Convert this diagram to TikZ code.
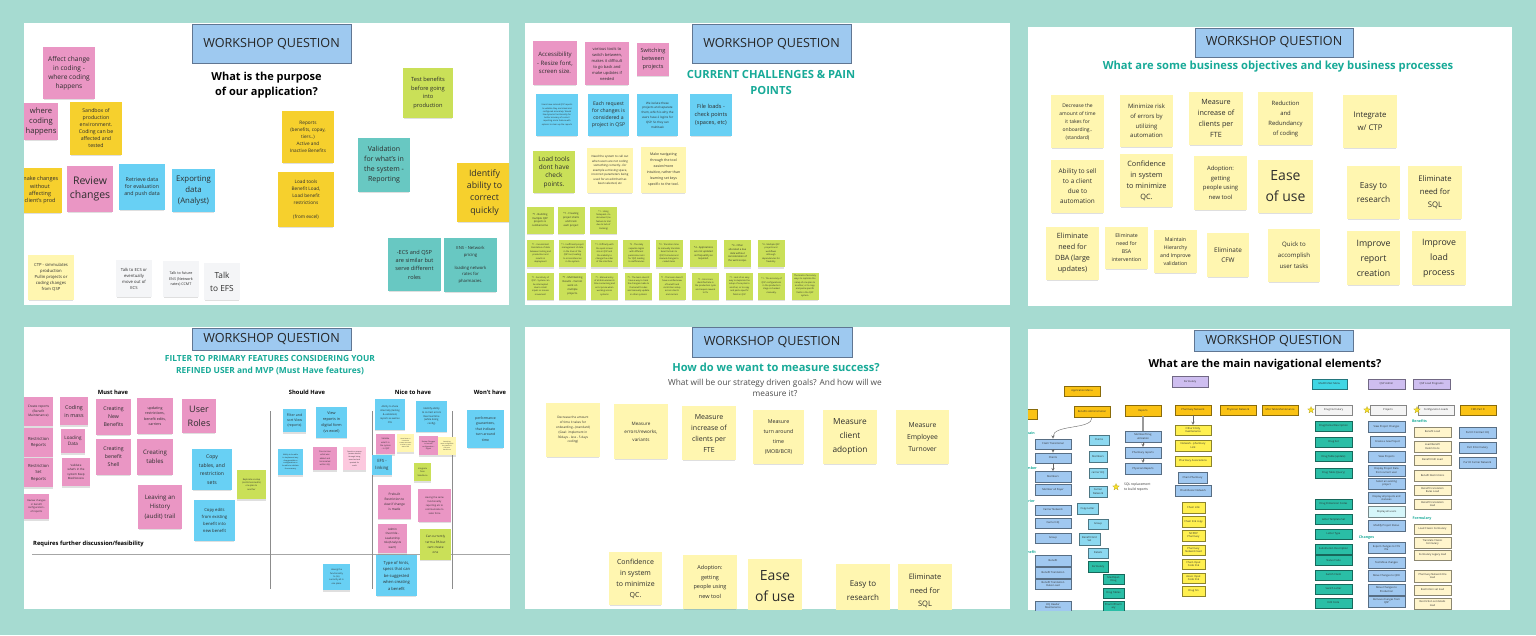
\documentclass[tikz,border=0pt]{standalone}
\usepackage{fontspec}
\setmainfont{Open Sans}
\usepackage{tikz}
\usetikzlibrary{shadows}
\usetikzlibrary{shapes.geometric}
\usetikzlibrary{arrows}

\definecolor{bgteal}{RGB}{166,219,209}
\definecolor{hdrblue}{RGB}{158,201,240}
\definecolor{hdrline}{RGB}{96,118,146}
\definecolor{teal2}{RGB}{24,170,152}
\definecolor{txt}{RGB}{45,45,45}
\definecolor{notepk}{RGB}{234,150,196}
\definecolor{lightpk}{RGB}{252,200,222}
\definecolor{noteyl}{RGB}{246,208,45}
\definecolor{notebl}{RGB}{104,208,244}
\definecolor{notetl}{RGB}{104,200,194}
\definecolor{notelg}{RGB}{202,224,88}
\definecolor{notepy}{RGB}{255,246,176}
\definecolor{notegr}{RGB}{244,245,247}
\definecolor{navor}{RGB}{250,194,20}
\definecolor{navli}{RGB}{206,190,240}
\definecolor{navbl}{RGB}{160,200,240}
\definecolor{navcy}{RGB}{140,216,240}
\definecolor{navtl}{RGB}{42,190,166}
\definecolor{navyl}{RGB}{255,240,80}
\definecolor{navpy}{RGB}{255,245,204}
\definecolor{navwt}{RGB}{244,244,244}
\definecolor{navtq}{RGB}{64,214,228}
\definecolor{navpale}{RGB}{214,246,250}
\definecolor{staryl}{RGB}{250,225,40}

\tikzset{
    wh/.style 2 args={minimum width=#1, minimum height=#2},
    fs/.style 2 args={font=\fontsize{#1}{#2}\selectfont},
    fsb/.style 2 args={font=\fontsize{#1}{#2}\selectfont\bfseries},
    note/.style={align=center, text=txt, inner sep=0pt,
        drop shadow={shadow xshift=0pt, shadow yshift=-2pt, shadow scale=0.97, opacity=0.25}},
    pk/.style={note, fill=notepk},
    lpk/.style={note, fill=lightpk},
    yl/.style={note, fill=noteyl},
    bl/.style={note, fill=notebl},
    tl/.style={note, fill=notetl},
    lg/.style={note, fill=notelg},
    py/.style={note, fill=notepy},
    gr/.style={note, fill=notegr},
    sm/.style={lg, wh={27}{27}, fs={2.2}{3.4}},
    hdr/.style={draw=hdrline, line width=0.6pt, fill=hdrblue, text=black!85,
        font=\fontsize{12.6}{15}\selectfont, inner sep=0pt},
    ttl/.style={align=center, inner sep=0pt},
    nav/.style={fill=#1, draw=#1!55!black, line width=0.3pt, align=center, text=txt,
        inner sep=0pt, minimum width=37, minimum height=10, font=\fontsize{2.6}{3.2}\selectfont},
    navhd/.style={text=teal2, font=\fontsize{3.6}{4}\selectfont\bfseries, inner sep=0pt},
    sstar/.style={star, star points=5, star point ratio=2.3, fill=staryl,
        draw=staryl!70!black, line width=0.2pt, minimum size=7, inner sep=0pt},
    flow/.style={-stealth, line width=0.4pt, black!60}
}

\begin{document}
\begin{tikzpicture}[x=1pt,y=-1pt]
    % Background
    \fill[bgteal] (0,0) rectangle (1536,635);

    % Panel 1: purpose
    \fill[white] (24,23) rectangle (509,305);
    \begin{scope}
    \clip (24,23) rectangle (509,305);
    \node[hdr, wh={159}{39}] (h1) at (271.5,43.5) {WORKSHOP QUESTION};
    \node[ttl, fsb={11}{15.5}] (t1) at (266.5,85) {What is the purpose\\of our application?};
    \node[pk, wh={52}{52}, fs={6.6}{9}] (a1) at (69,73) {Affect change\\in coding -\\where coding\\happens};
    \node[pk, wh={34}{37}, fs={7.6}{10}] (a2) at (41,121.5) {where\\coding\\happens};
    \node[yl, wh={52}{53}, fs={5.2}{7}] (a3) at (96,128.5) {Sandbox of\\production\\environment.\\Coding can be\\affected and\\tested};
    \node[yl, wh={44}{45}, fs={5.5}{7.3}] (a4) at (40,190.5) {make changes\\without\\affecting\\client's prod};
    \node[pk, wh={46}{46}, fs={10.5}{13.5}] (a5) at (90,189) {Review\\changes};
    \node[bl, wh={46}{46}, fs={5.3}{7.3}] (a6) at (142,187) {Retrieve data\\for evaluation\\and push data};
    \node[bl, wh={43}{43}, fs={7.8}{10.7}] (a7) at (193.5,190.5) {Exporting\\data\\(Analyst)};
    \node[py, wh={46}{45}, fs={4.2}{6}] (a8) at (51,277.5) {CTP - simmulates\\production\\Pullin projects or\\coding changes\\from QSP};
    \node[gr, wh={36}{37}, fs={4.2}{6}] (a9) at (134,278.5) {Talk to ECS or\\eventually\\move out of\\ECS};
    \node[gr, wh={36}{36}, fs={3.7}{5.5}] (a10) at (181,279) {Talk to future\\ENS (Network\\rates) CCMT};
    \node[gr, wh={36}{37}, fs={8.3}{13}] (a11) at (222,281.5) {Talk\\to EFS};
    \node[lg, wh={50}{50}, fs={5.7}{8.5}] (a12) at (428,93) {Test benefits\\before going\\into\\production};
    \node[yl, wh={52}{52}, fs={4.7}{7}] (a13) at (308,137) {Reports\\(benefits, copay,\\tiers..)\\Active and\\Inactive Benefits};
    \node[yl, wh={56}{55}, fs={4.7}{7}] (a14) at (306,199.5) {Load tools\\Benefit Load,\\Load benefit\\restrictions\\[7pt](from excel)};
    \node[tl, wh={52}{54}, fs={7}{10}] (a15) at (384,165) {Validation\\for what's in\\the system -\\Reporting};
    \node[yl, wh={55}{59}, fs={8.8}{12.3}] (a16) at (484.5,192.5) {Identify\\ability to\\correct\\quickly};
    \node[tl, wh={53}{53}, fs={5.6}{8.3}] (a17) at (414.5,264.5) {-ECS and QSP\\are similar but\\serve different\\roles};
    \node[tl, wh={53}{54}, fs={4.2}{6.5}] (a18) at (470.5,265) {ENS - Network\\pricing\\[6.5pt]loading network\\rates for\\pharmacies.};
    \end{scope}

    % Panel 2: challenges
    \fill[white] (525,23) rectangle (1010,305);
    \begin{scope}
    \clip (525,23) rectangle (1010,305);
    \node[hdr, wh={159}{39}] (h2) at (771.5,43.5) {WORKSHOP QUESTION};
    \node[ttl, text=teal2, fsb={11.2}{16.5}] (t2) at (771,82.5) {CURRENT CHALLENGES \& PAIN\\POINTS};
    \node[pk, wh={44}{44}, fs={6}{8.7}] (b1) at (555,63) {Accessibility\\- Resize font,\\screen size.};
    \node[pk, wh={44}{43}, fs={4}{6}] (b2) at (607,63.5) {various tools to\\switch between,\\makes it difficult\\to go back and\\make updates if\\needed};
    \node[pk, wh={32}{33}, fs={5.6}{8}] (b3) at (653,59.5) {Switching\\between\\projects};
    \node[bl, wh={42}{42}, fs={2.1}{3.2}] (b4) at (557,115) {Users have noticed QSP reports\\to validate they are linked and\\configured accurately. Would\\like dynamic functionality for\\better accuracy of current\\reporting and a feature with\\options to clean up the reports};
    \node[bl, wh={41}{42}, fs={5.1}{7}] (b5) at (608.5,115) {Each request\\for changes is\\considered a\\project in QSP};
    \node[bl, wh={41}{42}, fs={3}{4.8}] (b6) at (657.5,115) {We isolate these\\projects and separate\\them, which is why the\\users have 2 logins for\\QSP. So they can\\multitask};
    \node[bl, wh={42}{42}, fs={5.6}{8}] (b7) at (711,115) {File loads -\\check points\\(spaces, etc)};
    \node[lg, wh={42}{42}, fs={6.5}{8.3}] (b8) at (554,172) {Load tools\\dont have\\check\\points.};
    \node[py, wh={46}{45}, fs={2.9}{4.5}] (b9) at (610,170.5) {Need the system to call out\\when users are not coding\\something correctly...for\\example a missing space,\\incorrect parameters being\\used for an edit that has\\been selected, etc};
    \node[py, wh={45}{46}, fs={3.5}{6}] (b10) at (663.5,170) {Make navigating\\through the tool\\easier/more\\intuitive, rather than\\learning set keys\\specific to the tool.};
    % small pain points
    \node[sm, fs={2.6}{3.9}] (b11) at (540,220) {*1 - Building\\multiple QSP\\projects is\\cumbersome};
    \node[sm, fs={2.6}{3.9}] (b12) at (571,220) {*1 - Creating\\project shells\\and track\\each project};
    \node[sm] (b13) at (603.5,220) {*1 - Using\\Notepad++ to\\document (no\\feature to trail\\due to lack of\\tracking)};
    \node[sm] (b14) at (540.5,253.5) {*1 - Inconsistent\\translation of data\\between testing and\\production and\\results in\\deployment};
    \node[sm] (b15) at (572.5,253.5) {*1 - Inefficient project\\management of data\\in the lines of the\\QSP tool, leading\\to inconsistencies\\in the system};
    \node[sm] (b16) at (604.5,253.5) {*1 - Difficulty with\\the quick screen\\size in QSP and\\the inability to\\change the order\\of the interface.};
    \node[sm] (b17) at (636.5,253.5) {*2 - The daily\\separate logins\\with different\\permission sets\\for QSP, leading\\to inefficiencies};
    \node[sm] (b18) at (669,253.5) {*3 - Transition time\\to manually translate\\Excel formats to\\QSP, formulas and\\manual changes to\\coded items};
    \node[sm, fs={2.5}{3.8}] (b19) at (703.5,253.5) {*4 - Applications\\are not updated\\as frequently as\\required.};
    \node[sm, fs={2.5}{3.8}] (b20) at (737.5,253.5) {*4 - Often\\allocated a due\\date without\\consideration of\\the work scope.};
    \node[sm] (b21) at (771,253.5) {*4 - Multiple QSP\\projects and\\workflows\\although\\dependencies for\\flexibility};
    \node[sm] (b22) at (540.5,286) {*1 - Sensitivity of\\QSP - System can\\be interrupted\\due to small\\inputs or mouse\\movement};
    \node[sm, fs={2.6}{4}] (b23) at (572.5,286) {*1 - Multitasking\\Results - Cannot\\work on\\multiple\\projects.};
    \node[sm] (b24) at (604.5,286) {*1 - Manual entry\\of all data elements\\time consuming and\\error prone when\\working across\\systems};
    \node[sm] (b25) at (638.5,286) {*1 - The team doesn't\\have a way to track\\the changes made to\\the benefit codes\\and manually update\\in other systems};
    \node[sm] (b26) at (672,286) {*1 - The team doesn't\\have a unified view\\of benefit and\\restriction setup\\across clients\\and carriers};
    \node[sm] (b27) at (705.5,286) {*1 - Errors are\\identified late in\\the production cycle\\and require rework\\to fix};
    \node[sm] (b28) at (739.5,286) {*1 - Lack of an easy\\way to duplicate the\\setup of one plan to\\another, or to copy\\and paste specific\\fields in QSP};
    \node[sm] (b29) at (771.5,286) {*1 - The accuracy of\\QSP configurations\\in the production\\stage is checked\\manually.};
    \node[sm] (b30) at (805,286) {The loads of accuracy\\ways to replicate the\\setup of one plan to\\another, or to copy\\and paste specific\\fields in the QSP\\system.};
    \end{scope}

    % Panel 3: business objectives
    \fill[white] (1028,27) rectangle (1512,306);
    \begin{scope}
    \clip (1028,27) rectangle (1512,306);
    \node[hdr, wh={158}{29}] (h3) at (1274,42.5) {WORKSHOP QUESTION};
    \node[ttl, text=teal2, fsb={11.2}{13}] (t3) at (1278,67) {What are some business objectives and key business processes};
    \node[py, wh={53}{53}, fs={5}{8}] (c1) at (1077.5,121.5) {Decrease the\\amount of time\\it takes for\\onboarding..\\(standard)};
    \node[py, wh={53}{52}, fs={6}{9.7}] (c2) at (1146.5,121) {Minimize risk\\of errors by\\utilizing\\automation};
    \node[py, wh={54}{53}, fs={7.2}{11}] (c3) at (1216,118.5) {Measure\\increase of\\clients per\\FTE};
    \node[py, wh={55}{53}, fs={5.9}{10}] (c4) at (1285.5,118.5) {Reduction\\and\\Redundancy\\of coding};
    \node[py, wh={54}{53}, fs={7.8}{13}] (c5) at (1370,121.5) {Integrate\\w/ CTP};
    \node[py, wh={53}{53}, fs={6.4}{10}] (c6) at (1077.5,186.5) {Ability to sell\\to a client\\due to\\automation};
    \node[py, wh={53}{53}, fs={7.3}{11}] (c7) at (1146.5,180.5) {Confidence\\in system\\to minimize\\QC.};
    \node[py, wh={53}{54}, fs={5.9}{9.5}] (c8) at (1220.5,183) {Adoption:\\getting\\people using\\new tool};
    \node[py, wh={55}{53}, fs={14}{21}] (c9) at (1285.5,186.5) {Ease\\of use};
    \node[py, wh={53}{53}, fs={8.3}{14}] (c10) at (1373.5,192.5) {Easy to\\research};
    \node[py, wh={54}{53}, fs={7.7}{13}] (c11) at (1435,192.5) {Eliminate\\need for\\SQL};
    \node[py, wh={53}{53}, fs={7.2}{11}] (c12) at (1072.5,253.5) {Eliminate\\need for\\DBA (large\\updates)};
    \node[py, wh={43}{42}, fs={5.2}{8}] (c13) at (1126.5,248) {Eliminate\\need for\\BSA\\intervention};
    \node[py, wh={43}{43}, fs={5.2}{8}] (c14) at (1175.5,251.5) {Maintain\\Hierarchy\\and Improve\\validation};
    \node[py, wh={42}{44}, fs={6.4}{10}] (c15) at (1228,255) {Eliminate\\CFW};
    \node[py, wh={52}{53}, fs={6.1}{11}] (c16) at (1294,255.5) {Quick to\\accomplish\\user tasks};
    \node[py, wh={53}{54}, fs={8.8}{15}] (c17) at (1373.5,258) {Improve\\report\\creation};
    \node[py, wh={54}{54}, fs={8.8}{15}] (c18) at (1439,258) {Improve\\load\\process};
    \end{scope}

    % Panel 4: MVP features
    \fill[white] (24,327) rectangle (510,609);
    \begin{scope}
    \clip (24,327) rectangle (510,609);
    \node[hdr, wh={159}{22}] (h4) at (271.5,339) {WORKSHOP QUESTION};
    \node[ttl, text=teal2, fsb={8.4}{12}] (t4) at (270,365) {FILTER TO PRIMARY FEATURES CONSIDERING YOUR\\REFINED USER and MVP (Must Have features)};
    % Columns
    \node[ttl, fsb={5.8}{7}] (k1) at (113,392) {Must have};
    \node[ttl, fsb={5.8}{7}] (k2) at (307,392) {Should Have};
    \node[ttl, fsb={5.8}{7}] (k3) at (413,392) {Nice to have};
    \node[ttl, fsb={5.8}{7}] (k4) at (490,392) {Won't have};
    \node[ttl, fsb={5.8}{7}, anchor=west] (k5) at (33,544) {Requires further discussion/feasibility};
    \draw[black!35, line width=0.6pt] (32,554) -- (510,554);
    \draw[black!45, line width=0.6pt] (270,411) -- (270,589);
    \draw[black!45, line width=0.6pt] (372,411) -- (372,589);
    \draw[black!45, line width=0.6pt] (452,411) -- (452,589);
    % Must have
    \node[pk, wh={29}{29}, fs={3.2}{4.5}] (d1) at (38.5,411.5) {Create reports\\(Benefit\\Maintenance)};
    \node[pk, wh={29}{29}, fs={4.2}{6.5}] (d2) at (38.5,442.5) {Restriction\\Reports};
    \node[pk, wh={29}{29}, fs={4.2}{6.5}] (d3) at (38.5,472.5) {Restriction\\Set\\Reports};
    \node[pk, wh={25}{25}, fs={2.5}{3.6}] (d4) at (36.5,506.5) {Review changes\\in benefit\\configuration -\\of reports};
    \node[pk, wh={28}{28}, fs={5.4}{8}] (d5) at (74,411) {Coding\\in mass};
    \node[pk, wh={24}{24}, fs={4.6}{6.5}] (d6) at (73,441) {Loading\\Data};
    \node[pk, wh={28}{28}, fs={2.9}{4.3}] (d7) at (76,472) {Validate\\what's in the\\system Keep\\Med/Access};
    \node[pk, wh={35}{36}, fs={5.2}{8}] (d8) at (113.5,417) {Creating\\New\\Benefits};
    \node[pk, wh={35}{36}, fs={5.2}{8}] (d9) at (113.5,457) {Creating\\benefit\\Shell};
    \node[pk, wh={36}{36}, fs={3.6}{5.3}] (d10) at (155,416) {updating\\restrictions,\\benefit edits,\\carriers};
    \node[pk, wh={36}{36}, fs={6.1}{9.5}] (d11) at (155,457) {Creating\\tables};
    \node[pk, wh={34}{34}, fs={9}{14}] (d12) at (199,416) {User\\Roles};
    \node[pk, wh={44}{44}, fs={6.1}{9.7}] (d13) at (160,507) {Leaving an\\History\\(audit) trail};
    \node[bl, wh={40}{41}, fs={5.1}{8.5}] (d14) at (212,469.5) {Copy\\tables, and\\restriction\\sets};
    \node[bl, wh={41}{41}, fs={4.2}{7.2}] (d15) at (214.5,520.5) {Copy edits\\from existing\\benefit into\\new benefit};
    \node[lg, wh={29}{29}, fs={2.2}{3.3}] (d16) at (251.5,484.5) {Replicate a setup\\(restrictions/edits)\\one plan to\\another};
    % Should have
    \node[bl, wh={23}{23}, fs={3.5}{5.3}] (d17) at (294.5,420.5) {Filter and\\sort View\\(reports)};
    \node[bl, wh={31}{31}, fs={3.8}{5.8}] (d18) at (331.5,422.5) {View\\reports in\\digital form\\(vs excel)};
    \node[bl, wh={25}{26}, fs={1.9}{2.8}] (d19) at (290.5,462) {Ability to be able\\to implement any\\change within a\\configuration or\\be able to validate\\the accuracy};
    \node[pk, wh={24}{23}, fs={2.1}{3.2}] (d20) at (325,458.5) {You can see\\what was\\added and\\terminated\\within it(s)};
    \node[lpk, wh={23}{23}, fs={1.8}{2.8}] (d21) at (354.5,458.5) {Search on source\\(avatar details)\\through being\\searched and\\queried for\\audit};
    % Nice to have
    \node[bl, wh={30}{31}, fs={2.4}{3.8}] (d22) at (390,414.5) {Ability to share\\internally (testing\\\& validation)\\reports as well as\\CSV};
    \node[bl, wh={31}{31}, fs={2.5}{3.8}] (d23) at (431.5,416.5) {Identify ability\\to correct errors\\Real real time\\(while doing\\config)};
    \node[pk, wh={19}{20}, fs={2.1}{3.2}] (d24) at (385.5,444) {Validate\\what's in\\the system\\- in QSP};
    \node[py, wh={17}{18}, fs={1.5}{2.2}] (d25) at (405.5,443) {Have factor to\\customize\\create resources\\to refer in case\\view of life};
    \node[pk, wh={19}{19}, fs={1.8}{2.6}] (d26) at (428.5,445.5) {Review Changes\\in benefit\\configuration -\\Digital};
    \node[py, wh={18}{18}, fs={1.5}{2.2}] (d27) at (447,446) {Something\\more configurable\\the pattern to\\a factor a\\benefit use};
    \node[bl, wh={20}{20}, fs={4.3}{6.5}] (d28) at (382,465) {EFS -\\linking};
    \node[lg, wh={17}{18}, fs={2.1}{3.3}] (d29) at (422.5,472) {Integrate\\from\\Salesforce};
    \node[pk, wh={33}{34}, fs={3.2}{5}] (d30) at (394.5,502) {Prebuilt\\Restriction to\\view if change\\is made};
    \node[pk, wh={33}{33}, fs={2.4}{3.8}] (d31) at (434.5,505.5) {Having the same\\functionality\\reporting etc to\\communicate to\\sales force};
    \node[pk, wh={29}{29}, fs={2.9}{4.5}] (d32) at (392.5,538.5) {Admin\\Override -\\Leadership\\role(Analysts\\want)};
    \node[lg, wh={31}{31}, fs={3.1}{5.3}] (d33) at (435.5,544.5) {Can currently\\term a PA but\\cant create\\one};
    \node[bl, wh={27}{26}, fs={2.2}{3.3}] (d34) at (336.5,577) {Having the\\functionality\\to (to)\\currently all in\\one place};
    \node[bl, wh={41}{41}, fs={4.1}{6.5}] (d35) at (396.5,575.5) {Type of hints,\\specs that can\\be suggested\\when creating\\a benefit};
    % Won't have
    \node[bl, wh={37}{38}, fs={3.4}{5.5}] (d36) at (485.5,429) {performance\\guarantees,\\that indicate\\turn around\\time};
    \end{scope}

    % Panel 5: measure success
    \fill[white] (525,327) rectangle (1010,609);
    \begin{scope}
    \clip (525,327) rectangle (1010,609);
    \node[hdr, wh={160}{30}] (h5) at (772,342) {WORKSHOP QUESTION};
    \node[ttl, text=teal2, fsb={11.1}{13}] (t5) at (776,367) {How do we want to measure success?};
    \node[ttl, text=black!70, fs={8.3}{11}] (t5b) at (775,387.5) {What will be our strategy driven goals? And how will we\\measure it?};
    \node[py, wh={54}{54}, fs={3.1}{4.8}] (w1) at (573,430) {Decrease the amount\\of time it takes for\\onboarding...(standard)\\(Goal: implement in\\30days - less - 5 days\\coding)};
    \node[py, wh={54}{55}, fs={4.6}{8}] (w2) at (641,431.5) {Measure\\errors/reworks,\\variants};
    \node[py, wh={54}{54}, fs={7}{11}] (w3) at (709,433) {Measure\\increase of\\clients per\\FTE};
    \node[py, wh={51}{54}, fs={5.3}{10}] (w4) at (778.5,437) {Measure\\turn around\\time\\(MOB/BCR)};
    \node[py, wh={54}{54}, fs={8.3}{14}] (w5) at (850,437) {Measure\\client\\adoption};
    \node[py, wh={53}{54}, fs={6.8}{12}] (w6) at (922.5,437) {Measure\\Employee\\Turnover};
    \node[py, wh={53}{53}, fs={7}{11}] (w7) at (635.5,578.5) {Confidence\\in system\\to minimize\\QC.};
    \node[py, wh={54}{54}, fs={5.5}{9.5}] (w8) at (710,582) {Adoption:\\getting\\people using\\new tool};
    \node[py, wh={54}{54}, fs={14}{21}] (w9) at (775,586) {Ease\\of use};
    \node[py, wh={54}{54}, fs={8}{14}] (w10) at (863,591) {Easy to\\research};
    \node[py, wh={54}{54}, fs={7.5}{13.5}] (w11) at (925,591) {Eliminate\\need for\\SQL};
    \end{scope}

    % Panel 6: navigation
    \fill[white] (1028,329) rectangle (1510,610);
    \begin{scope}
    \clip (1028,329) rectangle (1510,610);
    \node[hdr, wh={159}{21}] (h6) at (1273.5,340.5) {WORKSHOP QUESTION};
    \node[ttl, fsb={11}{13}] (t6) at (1265,365) {What are the main navigational elements?};
    % Menus
    \node[nav=navor, wh={36}{10}] (e1) at (1082,391) {Application Menu};
    \node[nav=navor, wh={36}{10}] (e2) at (1019,414) {Clients};
    \node[nav=navor, wh={36}{11}] (e3) at (1092,411.5) {Benefits Administration};
    \node[nav=navor, wh={36}{11}] (e4) at (1143,410.5) {Reports};
    \node[nav=navor, wh={36}{10}] (e5) at (1193,410) {Pharmacy Network};
    \node[nav=navor, wh={36}{10}] (e6) at (1238,410) {Physician Network};
    \node[nav=navor, wh={36}{10}] (e7) at (1280,410) {Misc Table Maintenance};
    \node[nav=navli, wh={36}{11}] (e8) at (1190,381.5) {Formulary};
    % Domains
    \node[navhd, anchor=east] (g1) at (1035,433) {Domain};
    \node[navhd, anchor=east] (g2) at (1037,468) {Member};
    \node[navhd, anchor=east] (g3) at (1035,501) {Carrier};
    \node[navhd, anchor=east] (g4) at (1036,552) {Benefit};
    \node[nav=navbl, wh={36}{10.5}] (e9) at (1053,444) {Claim Transitional};
    \node[nav=navbl, wh={36}{10.5}] (e10) at (1053,458) {Clients};
    \node[nav=navbl, wh={36}{10.5}] (e11) at (1053,476.5) {Members};
    \node[nav=navbl, wh={36}{10.5}] (e12) at (1053,489.5) {Member all Payer};
    \node[nav=navbl, wh={36}{10.5}] (e13) at (1053,510) {Carrier Network};
    \node[nav=navbl, wh={36}{10.5}] (e14) at (1053,523) {Carrier HQ};
    \node[nav=navbl, wh={36}{10.5}] (e15) at (1053,538) {Group};
    \node[nav=navbl, wh={36}{10.5}] (e16) at (1053,560.5) {Benefit};
    \node[nav=navbl, wh={36}{10.5}] (e17) at (1053,572.5) {Benefit Translation};
    \node[nav=navbl, wh={36}{10.5}] (e18) at (1053,584) {Benefit Translation\\Rules Load};
    \node[nav=navbl, wh={36}{10.5}] (e19) at (1053,606) {HQ Header\\Maintenance};
    \draw[flow] (e3.south) .. controls (1093,430) and (1053,424) .. (e9.north);
    \draw[flow] (e9) -- (e10);
    \draw[flow] (e10) -- (e11);
    % Second column
    \node[nav=navcy, wh={20}{10}] (x1) at (1099,440) {Claims};
    \node[nav=navcy, wh={18}{11}] (x2) at (1098,456.5) {Members};
    \node[nav=navcy, wh={18}{10}] (x3) at (1098,473) {carrier HQ};
    \node[nav=navcy, wh={18}{11}] (x4) at (1098,491.5) {Carrier\\Network};
    \node[nav=navcy, wh={21}{11}] (x5) at (1087.5,508.5) {Copy Letter};
    \node[nav=navcy, wh={20}{10}] (x6) at (1098,524) {Group};
    \node[nav=navcy, wh={21}{12}] (x7) at (1089.5,539) {Benefit Grid\\Set};
    \node[nav=navcy, wh={20}{10}] (x8) at (1098,553) {Details};
    \node[nav=navtl, wh={20}{11}] (x9) at (1098,566.5) {Formulary};
    \node[nav=navtl, wh={21}{10}] (x10) at (1113.5,579) {MediSpan\\Drug};
    \node[nav=navtl, wh={21}{10}] (x11) at (1113.5,593) {Drug Tables};
    \node[nav=navtl, wh={21}{10}] (x12) at (1113.5,606) {Pharm/Pharm\\acy};
    % Reports
    \node[nav=navbl, wh={36}{11}] (r1) at (1143,436.5) {Member/Drug\\utilization};
    \node[nav=navbl, wh={36}{11}] (r2) at (1143,452.5) {Pharmacy reports};
    \node[nav=navbl, wh={36}{11}] (r3) at (1143,468.5) {Physician Reports};
    \draw[line width=1.2pt, black!40] (e4) -- (r1);
    \draw[flow] (r1) -- (r2);
    \draw[flow] (r2) -- (r3);
    \node[sstar] (s1) at (1116,487) {};
    \node[fs={3.3}{4.5}, align=left, anchor=west, inner sep=0pt, text=txt] (s1t) at (1124,487) {SQL replacement\\to build reports};
    % Pharmacy network
    \node[nav=navyl, wh={36}{10}] (p1) at (1193,430) {Other Entity\\maintenance};
    \node[nav=navyl, wh={36}{11}] (p2) at (1193,445.5) {Network - pharmacy\\Link};
    \node[nav=navyl, wh={36}{10}] (p3) at (1193,461) {Pharmacy Associations};
    \node[nav=navbl, wh={29}{11}] (p4) at (1192.5,477.5) {Chain Pharmacy};
    \node[nav=navbl, wh={36}{11}] (p5) at (1193,490.5) {Chain/Assoc Network};
    \node[nav=navyl, wh={23}{11}] (p6) at (1193.5,507.5) {Chain Link};
    \node[nav=navyl, wh={23}{11}] (p7) at (1193.5,521.5) {Chain link copy};
    \node[nav=navyl, wh={23}{11}] (p8) at (1193.5,535.5) {NCPDP\\Pharmacy};
    \node[nav=navyl, wh={23}{10}] (p9) at (1193.5,550) {Pharmacy\\Network load};
    \node[nav=navyl, wh={23}{10}] (p10) at (1193.5,564) {Chain Input\\Code link};
    \node[nav=navyl, wh={23}{10}] (p11) at (1193.5,578) {Assoc Input\\Code link};
    \node[nav=navyl, wh={23}{10}] (p12) at (1193.5,591) {Drug Sin};
    \draw[flow] (e5) -- (p1);
    % Top menus right
    \node[nav=navtq, wh={35}{10}] (m1) at (1329.5,384) {MedProNet Menu};
    \node[nav=navli, wh={37}{10}] (m2) at (1386.5,384) {QSP Admin};
    \node[nav=navli, wh={37}{10}] (m3) at (1431.5,384) {QSP Load Programs};
    \node[nav=navwt, wh={37}{10}] (m4) at (1333.5,410) {Drug Formulary};
    \node[nav=navwt, wh={36}{10}] (m5) at (1388,410) {Projects};
    \node[nav=navwt, wh={36}{10}] (m6) at (1436,410) {Configuration Loads};
    \node[nav=navor, wh={36}{10}] (m7) at (1478,410) {CMS Part D};
    \node[sstar] (s2) at (1311,410) {};
    \node[sstar] (s3) at (1367,410) {};
    \node[sstar] (s4) at (1417,410) {};
    % Drug formulary
    \node[nav=navtl] (n1) at (1333.5,426) {Drug Denial Description};
    \node[nav=navtl] (n2) at (1333.5,442) {Drug Set};
    \node[nav=navtl] (n3) at (1333.5,456.5) {Drug Table (update)};
    \node[nav=navtl] (n4) at (1333.5,473) {Drug Table (Query)};
    \node[nav=navtl] (n5) at (1333.5,504) {Drug Dimension Codes};
    \node[nav=navtl] (n6) at (1333.5,519.5) {Letter Template Set};
    \node[nav=navtl] (n7) at (1333.5,534) {Letter Type};
    \node[nav=navtl] (n8) at (1333.5,549) {Substitution Description};
    \node[nav=navtl] (n9) at (1333.5,560.5) {Status Code};
    \node[nav=navtl] (n10) at (1333.5,575) {Switch Claim};
    \node[nav=navtl] (n11) at (1333.5,589) {Switch Letter};
    \node[nav=navtl] (n12) at (1333.5,603) {Edit Code};
    % Projects
    \node[nav=navbl, wh={37}{11}] (o1) at (1386.5,426.5) {View Project Changes};
    \node[nav=navbl, wh={35}{11}] (o2) at (1387.5,441.5) {Create a new Project};
    \node[nav=navbl, wh={37}{11}] (o3) at (1386.5,456.5) {View Projects};
    \node[nav=navbl, wh={37}{11}] (o4) at (1386.5,470.5) {Display Project Data\\from current user};
    \node[nav=navbl, wh={37}{11}] (o5) at (1386.5,483.5) {Select an existing\\project};
    \node[nav=navbl, wh={37}{11}] (o6) at (1386.5,498) {Display all projects and\\statuses};
    \node[nav=navpale, wh={37}{11}] (o7) at (1386.5,511.5) {Display all users};
    \node[nav=navbl, wh={37}{11}] (o8) at (1386.5,525.5) {Modify Project Status};
    \node[navhd] (g5) at (1366.5,538) {Changes};
    \node[nav=navbl, wh={37}{11}] (o9) at (1386.5,548) {Export changes to CSV\\file};
    \node[nav=navbl, wh={37}{11}] (o10) at (1386.5,562.5) {Test Move changes};
    \node[nav=navbl, wh={37}{11}] (o11) at (1386.5,575.5) {Move Changes to QDE};
    \node[nav=navbl, wh={37}{11}] (o12) at (1386.5,589.5) {Move Changes to\\Production};
    \node[nav=navbl, wh={37}{11}] (o13) at (1386.5,601.5) {Remove changes from\\QSP};
    % Configuration loads
    \node[navhd] (g6) at (1419.5,421) {Benefits};
    \node[nav=navpy] (u1) at (1432.5,432) {Benefit Load};
    \node[nav=navpy, wh={37}{11}] (u2) at (1432.5,446.5) {Load Benefit\\Restrictions};
    \node[nav=navpy] (u3) at (1432.5,460) {Benefit Edit Load};
    \node[nav=navpy, wh={37}{11}] (u4) at (1432.5,475.5) {Benefit Restrictions};
    \node[nav=navpy] (u5) at (1432.5,490) {Benefit translation\\Rules Load};
    \node[nav=navpy] (u6) at (1432.5,504) {Benefit translation\\load};
    \node[navhd] (g7) at (1422,519) {Formulary};
    \node[nav=navpy] (u7) at (1432.5,529) {Load Classic Formulary};
    \node[nav=navpy, wh={37}{11}] (u8) at (1432.5,542.5) {Translate Classic\\Formulary};
    \node[nav=navpy] (u9) at (1432.5,555) {Formulary Legacy load};
    \node[nav=navpy, wh={37}{12}] (u10) at (1432.5,576) {Pharmacy Network File\\load};
    \node[nav=navpy] (u11) at (1432.5,590) {Restriction set load};
    \node[nav=navpy, wh={37}{11}] (u12) at (1432.5,603.5) {Restriction set details\\load};
    % CMS part D
    \node[nav=navbl, wh={37}{11}] (v1) at (1477.5,432.5) {Part D Contract HQ};
    \node[nav=navbl, wh={37}{11}] (v2) at (1477.5,447.5) {Part D Formulary};
    \node[nav=navbl, wh={37}{11}] (v3) at (1477.5,462.5) {Part D Carrier Network};
    \end{scope}
\end{tikzpicture}
\end{document}
